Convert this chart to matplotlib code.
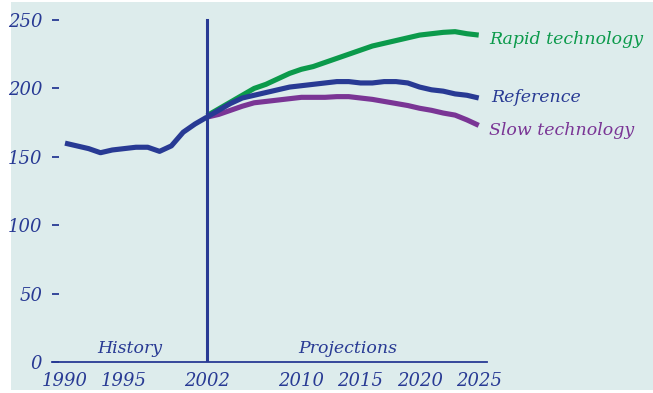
"""Energy-intensity style chart: history plus three technology projections."""

import matplotlib.pyplot as plt
from matplotlib.patches import Rectangle

BG = "#ddecec"
BLUE = "#283a94"
GREEN = "#0b9a4b"
PURPLE = "#7a3595"
FONT = "DejaVu Serif"

history_years = list(range(1990, 2003))
history_values = [160, 158, 156, 153, 155, 156, 157, 157, 154, 158, 168, 174, 179]

proj_years = list(range(2002, 2026))
reference_values = [179, 184, 189, 193, 195, 197, 199, 201, 202, 203, 204, 205,
                    205, 204, 204, 205, 205, 204, 201, 199, 198, 196, 195, 193]
rapid_values = [180, 185, 190, 195, 200, 203, 207, 211, 214, 216, 219, 222,
                225, 228, 231, 233, 235, 237, 239, 240, 241, 241.5, 240, 239]
slow_values = [179, 181, 184, 187, 189.5, 190.5, 191.5, 192.5, 193.5, 193.5, 193.5, 194,
               194, 193, 192, 190.5, 189, 187.5, 185.5, 184, 182, 180.5, 177, 173]

x_ticks = [1990, 1995, 2002, 2010, 2015, 2020, 2025]
y_ticks = [0, 50, 100, 150, 200, 250]

W, H = 653, 393
fig = plt.figure(figsize=(W / 100, H / 100), dpi=100)
fig.patch.set_facecolor("white")
fig.patches.append(Rectangle((11 / W, 3 / H), (W - 11) / W, (H - 5) / H,
                             transform=fig.transFigure, facecolor=BG,
                             edgecolor="none", zorder=-10))

left, right = 52, 487
bottom_px, top_px = 362, 13.2
ax = fig.add_axes([left / W, (H - bottom_px) / H, (right - left) / W,
                   (bottom_px - top_px) / H])
ax.patch.set_alpha(0)

ax.plot(proj_years, slow_values, color=PURPLE, lw=3.7, solid_capstyle="butt", zorder=3)
ax.plot(proj_years, rapid_values, color=GREEN, lw=3.7, solid_capstyle="butt", zorder=3)
ax.plot(proj_years, reference_values, color=BLUE, lw=3.7, solid_capstyle="butt", zorder=4)
ax.plot(history_years, history_values, color=BLUE, lw=3.7, solid_capstyle="butt", zorder=4)
ax.plot([2002, 2002], [0, 250], color=BLUE, lw=2.2, zorder=5)

ax.set_xlim(1988.9, 2025.7)
ax.set_ylim(0, 255)

for side in ("top", "right", "left"):
    ax.spines[side].set_visible(False)
ax.spines["bottom"].set_color(BLUE)
ax.spines["bottom"].set_linewidth(1.3)

ax.set_xticks(x_ticks)
ax.set_xticklabels([str(t) for t in x_ticks])
ax.set_yticks(y_ticks)
ax.set_yticklabels([str(t) for t in y_ticks])
ax.tick_params(axis="x", length=0, pad=7, labelsize=13, labelcolor=BLUE)
ax.tick_params(axis="y", direction="in", length=5, width=1.3, color=BLUE,
               pad=7, labelsize=13, labelcolor=BLUE)
for lab in ax.get_xticklabels() + ax.get_yticklabels():
    lab.set_fontfamily(FONT)
    lab.set_fontstyle("italic")

txt = dict(fontfamily=FONT, fontstyle="italic", fontsize=12.5, va="center",
           ha="left", clip_on=False)
ax.text(2025.9, 235.5, "Rapid technology", color=GREEN, **txt)
ax.text(2026.1, 193.7, "Reference", color=BLUE, **txt)
ax.text(2025.9, 169.6, "Slow technology", color=PURPLE, **txt)

ax.text(1995.5, 10, "History", color=BLUE, fontfamily=FONT, fontstyle="italic",
        fontsize=12.5, ha="center", va="center")
ax.text(2013.9, 10, "Projections", color=BLUE, fontfamily=FONT, fontstyle="italic",
        fontsize=12.5, ha="center", va="center")

fig.savefig("out.png", dpi=100, facecolor=fig.get_facecolor())
